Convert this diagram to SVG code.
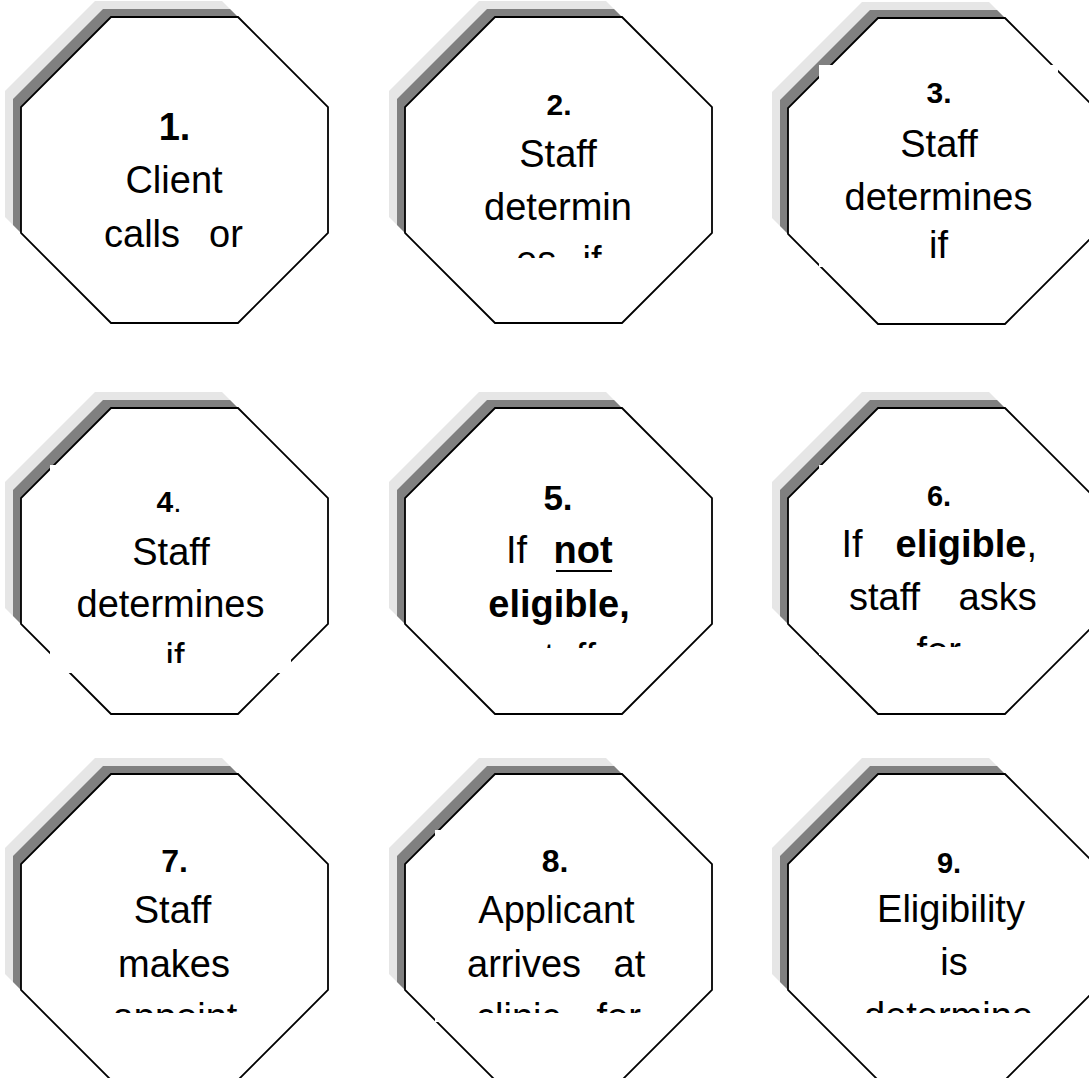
<svg xmlns="http://www.w3.org/2000/svg" xmlns:xlink="http://www.w3.org/1999/xlink" width="1089" height="1078" viewBox="0 0 1089 1078">
<style>
.sh1{fill:#e6e6e6;stroke:none}
.sh2{fill:#808080;stroke:none}
.oct{fill:#ffffff;stroke:#000000;stroke-width:1.8}
.box{fill:#ffffff;stroke:none}
text{font-family:"Liberation Sans",Arial,sans-serif;font-size:38px;fill:#000000}
.num{font-weight:bold}
.b{font-weight:bold}
.c{text-anchor:middle}
</style>
<defs>
<polygon id="octShape" points="90,0 217,0 307,90 307,216 217,306 90,306 0,216 0,90"/>
<clipPath id="clip2"><rect x="400" y="0" width="320" height="258"/></clipPath>
<clipPath id="clip4"><rect x="0" y="390" width="340" height="273"/></clipPath>
<clipPath id="clip5"><rect x="400" y="390" width="320" height="258"/></clipPath>
<clipPath id="clip6"><rect x="780" y="390" width="309" height="257"/></clipPath>
<clipPath id="clip7"><rect x="0" y="760" width="340" height="253"/></clipPath>
<clipPath id="clip8"><rect x="400" y="760" width="320" height="253"/></clipPath>
<clipPath id="clip9"><rect x="780" y="760" width="309" height="253"/></clipPath>
</defs>
<rect width="1089" height="1078" fill="#ffffff"/>
<g id="connectors"/>

<g id="node1">
<use xlink:href="#octShape" href="#octShape" class="sh1" x="5" y="1"/>
<use xlink:href="#octShape" href="#octShape" class="sh2" x="13" y="9"/>
<use xlink:href="#octShape" href="#octShape" class="oct" x="21" y="17"/>
<text class="num c" x="174.5" y="140">1.</text>
<text class="c" x="174" y="193">Client</text>
<text y="247"><tspan x="104">calls</tspan><tspan x="209">or</tspan></text>
</g>

<g id="node2">
<use xlink:href="#octShape" href="#octShape" class="sh1" x="389" y="1"/>
<use xlink:href="#octShape" href="#octShape" class="sh2" x="397" y="9"/>
<use xlink:href="#octShape" href="#octShape" class="oct" x="405" y="17"/>
<text class="num c" x="559" y="115" style="font-size:30px">2.</text>
<text class="c" x="558" y="167">Staff</text>
<text class="c" x="558" y="220">determin</text>
<g clip-path="url(#clip2)">
<text y="273"><tspan x="516">es</tspan><tspan x="582.5">if</tspan></text>
</g>
</g>

<g id="node3">
<use xlink:href="#octShape" href="#octShape" class="sh1" x="772" y="2"/>
<use xlink:href="#octShape" href="#octShape" class="sh2" x="780" y="10"/>
<use xlink:href="#octShape" href="#octShape" class="oct" x="788" y="18"/>
<rect class="box" x="819" y="65" width="239" height="202"/>
<text class="num c" x="939" y="103" style="font-size:30px">3.</text>
<text class="c" x="939" y="157">Staff</text>
<text class="c" x="938.5" y="210">determines</text>
<text class="c" x="938.5" y="258">if</text>
</g>

<g id="node4">
<use xlink:href="#octShape" href="#octShape" class="sh1" x="5" y="392"/>
<use xlink:href="#octShape" href="#octShape" class="sh2" x="13" y="400"/>
<use xlink:href="#octShape" href="#octShape" class="oct" x="21" y="408"/>
<rect class="box" x="50" y="465" width="241" height="208"/>
<text class="c" x="169" y="512" style="font-size:30px"><tspan class="b">4</tspan>.</text>
<text class="c" x="171" y="565">Staff</text>
<text class="c" x="170.5" y="617">determines</text>
<g clip-path="url(#clip4)">
<text class="c" x="175" y="670">if</text>
</g>
</g>

<g id="node5">
<use xlink:href="#octShape" href="#octShape" class="sh1" x="389" y="392"/>
<use xlink:href="#octShape" href="#octShape" class="sh2" x="397" y="400"/>
<use xlink:href="#octShape" href="#octShape" class="oct" x="405" y="408"/>
<text class="num c" x="558" y="510" style="font-size:35px">5.</text>
<text y="563"><tspan x="506">If</tspan><tspan x="553.5" class="b">not</tspan></text>
<line x1="556" y1="571" x2="612" y2="571" stroke="#000000" stroke-width="2"/>
<text class="b c" x="559" y="617">eligible,</text>
<g clip-path="url(#clip5)">
<text x="525" y="670">staff</text>
</g>
</g>

<g id="node6">
<use xlink:href="#octShape" href="#octShape" class="sh1" x="772" y="392"/>
<use xlink:href="#octShape" href="#octShape" class="sh2" x="780" y="400"/>
<use xlink:href="#octShape" href="#octShape" class="oct" x="788" y="408"/>
<rect class="box" x="819" y="465" width="239" height="190"/>
<text class="num c" x="939" y="506" style="font-size:29px">6.</text>
<text y="557"><tspan x="841.5">If</tspan><tspan x="895.5" class="b">eligible</tspan><tspan>,</tspan></text>
<text y="610"><tspan x="849">staff</tspan><tspan x="958.5">asks</tspan></text>
<g clip-path="url(#clip6)">
<text x="916.5" y="664">for</text>
</g>
</g>

<g id="node7">
<use xlink:href="#octShape" href="#octShape" class="sh1" x="5" y="758"/>
<use xlink:href="#octShape" href="#octShape" class="sh2" x="13" y="766"/>
<use xlink:href="#octShape" href="#octShape" class="oct" x="21" y="774"/>
<text class="num c" x="174.5" y="872" style="font-size:32px">7.</text>
<text class="c" x="172.5" y="923">Staff</text>
<text class="c" x="174" y="977">makes</text>
<g clip-path="url(#clip7)">
<text class="c" x="175" y="1030">appoint</text>
</g>
</g>

<g id="node8">
<use xlink:href="#octShape" href="#octShape" class="sh1" x="389" y="758"/>
<use xlink:href="#octShape" href="#octShape" class="sh2" x="397" y="766"/>
<use xlink:href="#octShape" href="#octShape" class="oct" x="405" y="774"/>
<rect class="box" x="435" y="830" width="240" height="192"/>
<text class="num c" x="555" y="872" style="font-size:32px">8.</text>
<text class="c" x="556.5" y="923">Applicant</text>
<text y="977"><tspan x="467">arrives</tspan><tspan x="613.5">at</tspan></text>
<g clip-path="url(#clip8)">
<text y="1030"><tspan x="476">clinic</tspan><tspan x="596.5">for</tspan></text>
</g>
</g>

<g id="node9">
<use xlink:href="#octShape" href="#octShape" class="sh1" x="772" y="758"/>
<use xlink:href="#octShape" href="#octShape" class="sh2" x="780" y="766"/>
<use xlink:href="#octShape" href="#octShape" class="oct" x="788" y="774"/>
<text class="num c" x="949" y="873" style="font-size:29px">9.</text>
<text class="c" x="951" y="922">Eligibility</text>
<text class="c" x="954" y="975">is</text>
<g clip-path="url(#clip9)">
<text class="c" x="948.5" y="1029">determine</text>
</g>
</g>
</svg>
